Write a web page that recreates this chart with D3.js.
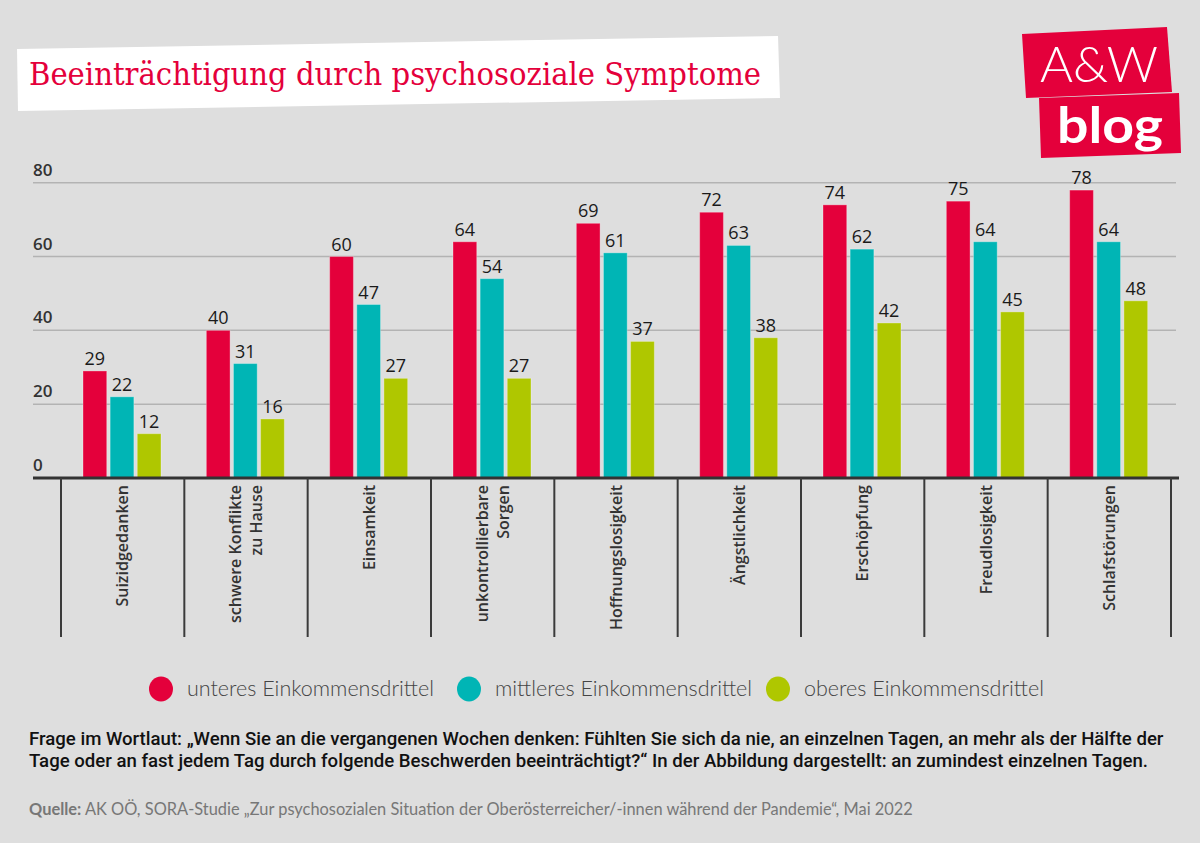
<!doctype html>
<html lang="de">
<head>
<meta charset="utf-8">
<title>Beeinträchtigung durch psychosoziale Symptome</title>
<script src="https://d3js.org/d3.v7.min.js"></script>
<style>
  body { margin: 0; background: #dedede; }
  svg { display: block; }
  .ytick { font-family: "Open Sans", sans-serif; font-size: 17px; font-weight: 600; fill: #333; }
  .val { font-family: "Open Sans", sans-serif; font-size: 18px; fill: #1a1a1a; }
  .cat { font-family: "Open Sans", sans-serif; font-size: 16px; font-weight: 600; fill: #333; }
  .leg { font-family: Lato, sans-serif; font-size: 21.5px; font-weight: 300; fill: #444; }
  .note { font-family: Roboto, sans-serif; font-size: 18.6px; font-weight: 500; fill: #111; }
  .src { font-family: Lato, sans-serif; font-size: 16.4px; fill: #777; }
</style>
</head>
<body>
<svg id="main" width="1200" height="843"></svg>
<script>
// data
let categories = ["Suizidgedanken", "schwere Konflikte|zu Hause", "Einsamkeit", "unkontrollierbare|Sorgen",
  "Hoffnungslosigkeit", "Ängstlichkeit", "Erschöpfung", "Freudlosigkeit", "Schlafstörungen"];
let series = ["unteres Einkommensdrittel", "mittleres Einkommensdrittel", "oberes Einkommensdrittel"];
let unteres = [29, 40, 60, 64, 69, 72, 74, 75, 78];
let mittleres = [22, 31, 47, 54, 61, 63, 62, 64, 64];
let oberes = [12, 16, 27, 27, 37, 38, 42, 45, 48];
let yTicks = [0, 20, 40, 60, 80];

let colors = ["#e4003b", "#00b5b5", "#afc700"];
let values = [unteres, mittleres, oberes];

let svg = d3.select("#main");
svg.append("rect").attr("width", 1200).attr("height", 843).attr("fill", "#dedede");

// title banner
svg.append("polygon").attr("points", "17,49 778,36 780,98 18,111").attr("fill", "#fff");
svg.append("text").attr("x", 29).attr("y", 85)
  .attr("font-family", "'DejaVu Serif Condensed', 'DejaVu Serif', serif")
  .attr("font-size", 31).attr("fill", "#e4003b")
  .attr("textLength", 732).attr("lengthAdjust", "spacingAndGlyphs")
  .text("Beeinträchtigung durch psychosoziale Symptome");

// logo
svg.append("polygon").attr("points", "1022,34 1167,27 1172,92 1026,98").attr("fill", "#e4003b");
svg.append("polygon").attr("points", "1039,98 1179,93 1181,153 1041,158").attr("fill", "#e4003b");
svg.append("text").attr("x", 1099).attr("y", 82).attr("text-anchor", "middle")
  .attr("font-family", "Lato, sans-serif").attr("font-weight", 300).attr("font-size", 50)
  .attr("textLength", 118).attr("lengthAdjust", "spacingAndGlyphs")
  .attr("fill", "#fff").text("A&W");
svg.append("text").attr("x", 1110).attr("y", 143).attr("text-anchor", "middle")
  .attr("font-family", "Lato, sans-serif").attr("font-weight", 700).attr("font-size", 50)
  .attr("textLength", 106).attr("lengthAdjust", "spacingAndGlyphs")
  .attr("fill", "#fff").text("blog");

// scales
let y = d3.scaleLinear().domain([0, 80]).range([478, 182.7]);
let x0 = d3.scaleBand().domain(categories).range([61, 1171]);
let x1 = d3.scaleBand().domain(series).range([22, 100]).paddingInner(0.125);

// grid + y labels
svg.append("g").selectAll("line").data(yTicks.filter(d => d > 0)).join("line")
  .attr("x1", 33).attr("x2", 1176)
  .attr("y1", d => y(d)).attr("y2", d => y(d))
  .attr("stroke", "#b3b3b3").attr("stroke-width", 1.5);
svg.append("g").selectAll("text").data(yTicks).join("text")
  .attr("class", "ytick").attr("x", 33).attr("y", d => y(d) - 7).text(d => d);

// bars
let grp = svg.append("g").selectAll("g").data(categories).join("g")
  .attr("transform", d => `translate(${x0(d)},0)`);
grp.selectAll("rect").data((d, i) => series.map((s, k) => ({ s: s, k: k, v: values[k][i] }))).join("rect")
  .attr("x", d => x1(d.s)).attr("width", x1.bandwidth())
  .attr("y", d => y(d.v)).attr("height", d => y(0) - y(d.v))
  .attr("fill", d => colors[d.k])
  .attr("stroke", "rgba(255,255,255,0.3)").attr("stroke-width", 1);
grp.selectAll("text").data((d, i) => series.map((s, k) => ({ s: s, k: k, v: values[k][i] }))).join("text")
  .attr("class", "val").attr("text-anchor", "middle")
  .attr("x", d => x1(d.s) + x1.bandwidth() / 2).attr("y", d => y(d.v) - 6)
  .text(d => d.v);

// x axis with dividers
svg.append("line").attr("x1", 33).attr("x2", 1179).attr("y1", 478).attr("y2", 478)
  .attr("stroke", "#333").attr("stroke-width", 3);
let bounds = categories.map(c => x0(c)).concat([x0.range()[1]]);
svg.append("g").selectAll("line").data(bounds).join("line")
  .attr("x1", d => d).attr("x2", d => d).attr("y1", 478).attr("y2", 637)
  .attr("stroke", "#3a3a3a").attr("stroke-width", 2);

// category labels (rotated)
categories.forEach(c => {
  let lines = c.split("|");
  let cx = x0(c) + x0.bandwidth() / 2;
  lines.forEach((ln, j) => {
    let off = (j - (lines.length - 1) / 2) * 21;
    svg.append("text").attr("class", "cat").attr("text-anchor", "end")
      .attr("transform", `translate(${cx + off},485) rotate(-90)`)
      .attr("dy", "0.35em").text(ln);
  });
});

// legend
let legX = [161, 469, 778];
let leg = svg.append("g").selectAll("g").data(series).join("g")
  .attr("transform", (d, i) => `translate(${legX[i]},689)`);
leg.append("ellipse").attr("rx", 12).attr("ry", 12.5).attr("fill", (d, i) => colors[i]);
leg.append("text").attr("class", "leg").attr("x", 26).attr("y", 7).text(d => d);

// notes
let noteLines = [
  "Frage im Wortlaut: „Wenn Sie an die vergangenen Wochen denken: Fühlten Sie sich da nie, an einzelnen Tagen, an mehr als der Hälfte der",
  "Tage oder an fast jedem Tag durch folgende Beschwerden beeinträchtigt?“ In der Abbildung dargestellt: an zumindest einzelnen Tagen."
];
svg.append("g").selectAll("text").data(noteLines).join("text")
  .attr("class", "note").attr("x", 29).attr("y", (d, i) => 745 + i * 22).text(d => d);

let src = svg.append("text").attr("class", "src").attr("x", 29).attr("y", 815);
src.append("tspan").attr("font-weight", 700).text("Quelle:");
src.append("tspan").text(" AK OÖ, SORA-Studie „Zur psychosozialen Situation der Oberösterreicher/-innen während der Pandemie“, Mai 2022");
</script>
</body>
</html>
